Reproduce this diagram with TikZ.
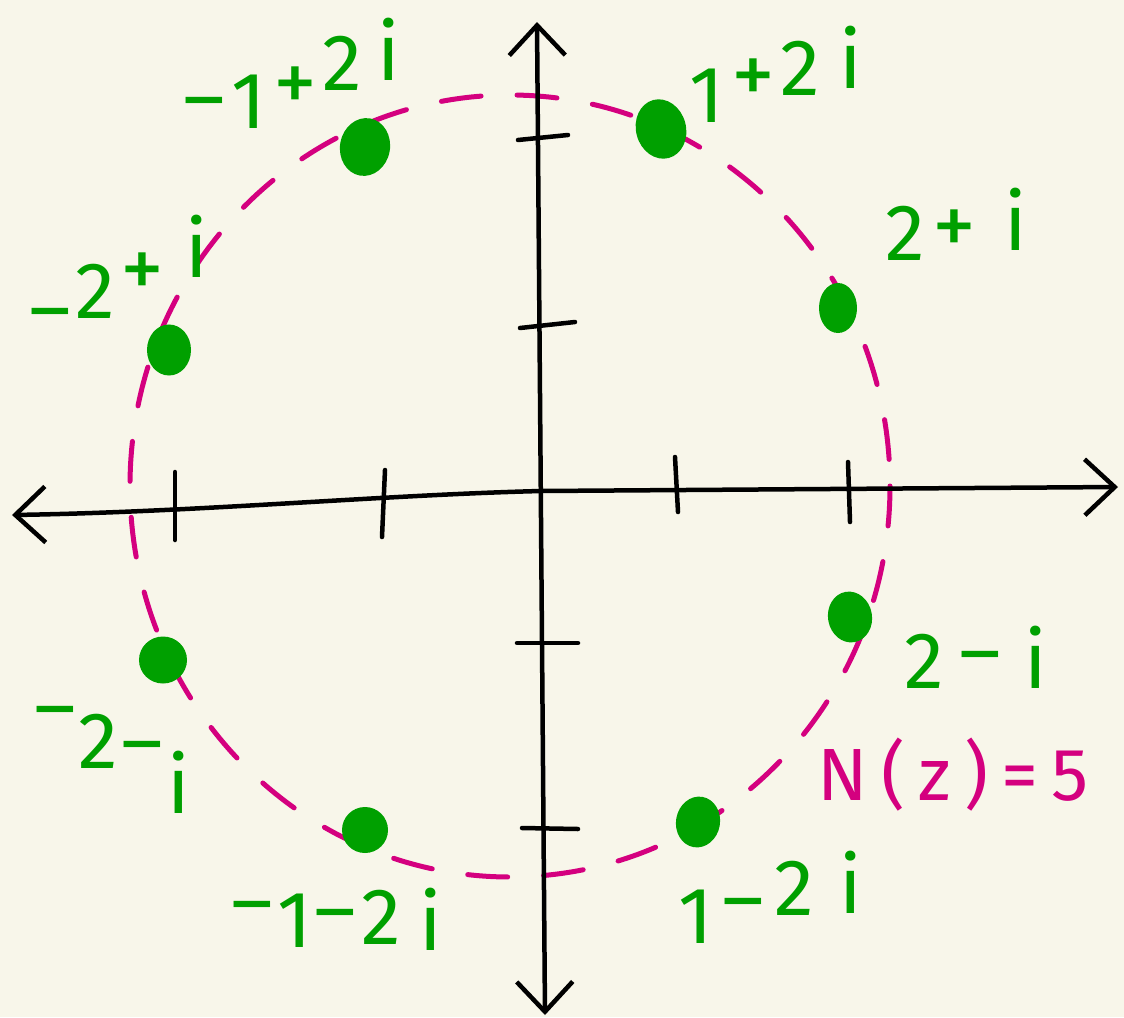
\documentclass[tikz,border=0pt]{standalone}
\usepackage{fontspec}
\newfontfamily\hand[LetterSpace=18]{Fira Sans}
\newfontfamily\handplain{Fira Sans}
\usetikzlibrary{arrows.meta,shapes.geometric}
\definecolor{bgc}{HTML}{F8F6EA}
\definecolor{grn}{HTML}{00A000}
\definecolor{mag}{HTML}{D4007F}
% place one character: centre x offset, raise, character
\newcommand{\placech}[3]{\rlap{\hspace*{#1pt}\makebox[0pt][c]{\raisebox{#2pt}{#3}}}}
\newcommand{\bigplus}{{\fontsize{88}{92}\selectfont +}}
\tikzset{
  axis/.style={line width=4.5pt, line cap=round, line join=round, black,
    {Straight Barb[length=30pt,width=56pt]}-{Straight Barb[length=30pt,width=56pt]}},
  tickmark/.style={line width=4.5pt, line cap=round, black},
  dot/.style={ellipse, fill=grn, draw=grn, line width=2pt, minimum width=42pt, minimum height=49pt, inner sep=0pt},
  lbl/.style={text=grn, font=\handplain\fontsize{80}{88}\selectfont, inner sep=0pt, anchor=base west},
  nlbl/.style={text=mag, font=\hand\fontsize{74}{84}\selectfont, inner sep=0pt},
  contour/.style={draw=mag, line width=5pt, line cap=round, dash pattern=on 40pt off 36pt},
}
\begin{document}
\begin{tikzpicture}[x=1pt,y=-1pt]
\fill[bgc] (0,0) rectangle (1124,1017);
\useasboundingbox (0,0) rectangle (1124,1017);
% dashed circle
\draw[contour] (510,486) ellipse [x radius=380, y radius=391];
% axes
\coordinate (axL) at (12,515);
\coordinate (axR) at (1118,487);
\coordinate (axO) at (541,491);
\coordinate (axT) at (537,22);
\coordinate (axB) at (545,1015);
\draw[axis] (axL) .. controls (200,512) and (380,495) .. (axO) -- (axR);
\draw[axis] (axT) -- (axB);
% ticks
\draw[tickmark] (175,472) -- (175,540);
\draw[tickmark] (385,470) -- (382,537);
\draw[tickmark] (675,457) -- (678,512);
\draw[tickmark] (848,462) -- (850,522);
\draw[tickmark] (518,140) -- (568,135);
\draw[tickmark] (520,328) -- (575,322);
\draw[tickmark] (517,643) -- (578,643);
\draw[tickmark] (522,828) -- (578,829);
% points
\node[dot, rotate=-10, minimum width=48pt, minimum height=56pt] (p8) at (365,147) {};
\node[dot, rotate=15, minimum width=48pt, minimum height=58pt] (p1) at (661,129) {};
\node[dot, minimum width=36pt, minimum height=48pt] (p2) at (838,308) {};
\node[dot, rotate=10] (p3) at (850,617) {};
\node[dot, minimum width=46pt, minimum height=45pt] (p6) at (163,660) {};
\node[dot, minimum width=44pt, minimum height=44pt] (p5) at (365,830) {};
\node[dot, rotate=-10] (p4) at (698,822) {};
\node[dot] (p7) at (169,350) {};
% labels (characters set one by one, as in the handwriting)
\node[lbl] (l8) at (188,130) {\placech{16}{5}{–}\placech{60}{2}{1}\placech{107}{18}{\bigplus}\placech{154}{40}{2}\placech{200}{50}{i}};
\node[lbl] (l1) at (700,122) {\placech{6}{0}{1}\placech{53}{18}{\bigplus}\placech{100}{27}{2}\placech{150}{34}{i}};
\node[lbl] (l2) at (886,260) {\placech{19}{0}{2}\placech{68}{5}{\bigplus}\placech{129}{10}{i}};
\node[lbl] (l7) at (33,336) {\placech{17}{0}{–}\placech{62}{18}{2}\placech{109}{38}{\bigplus}\placech{163}{59}{i}};
\node[lbl] (l3) at (900,688) {\placech{24}{0}{2}\placech{80}{9}{–}\placech{135}{0}{i}};
\node[nlbl] (nz) at (953,775) {N(z)=5};
\node[lbl] (l6) at (42,734) {\placech{13}{0}{–}\placech{56}{-34}{2}\placech{100}{-35}{–}\placech{136}{-79}{i}};
\node[lbl] (l5) at (238,947) {\placech{14}{18}{–}\placech{56}{0}{1}\placech{97}{10}{–}\placech{143}{3}{2}\placech{192}{-3}{i}};
\node[lbl] (l4) at (687,943) {\placech{8}{0}{1}\placech{56}{17}{–}\placech{107}{28}{2}\placech{163}{30}{i}};
\end{tikzpicture}
\end{document}
